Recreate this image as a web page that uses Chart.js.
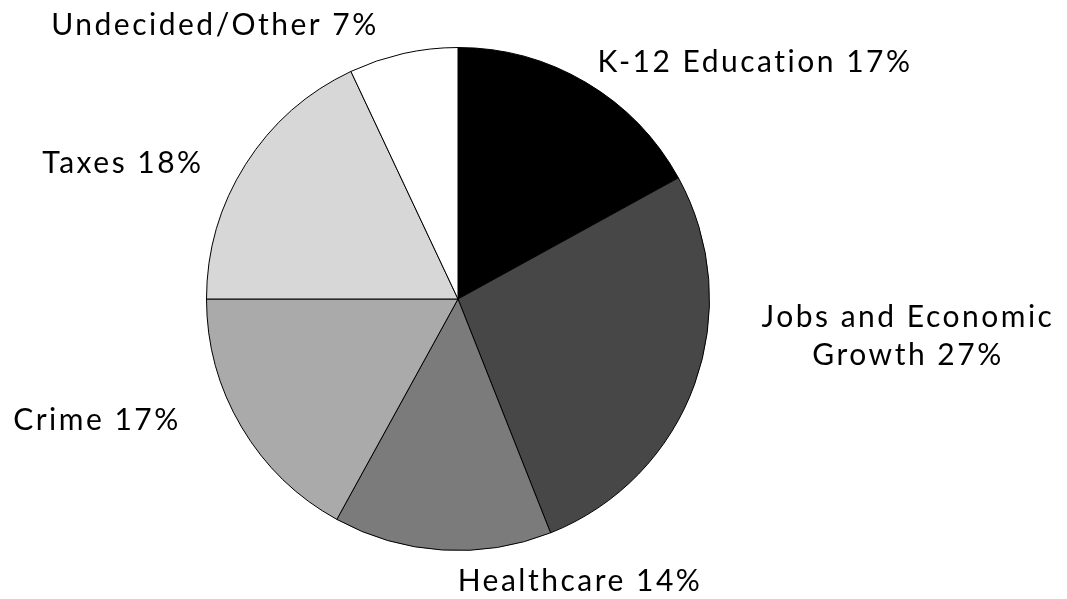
<!DOCTYPE html>
<html>
<head>
<meta charset="utf-8">
<script src="https://cdn.jsdelivr.net/npm/chart.js@4"></script>
<style>
  html, body { margin: 0; padding: 0; background: #fff; }
  #wrap { width: 1067px; height: 599px; }
</style>
</head>
<body>
<div id="wrap"><canvas id="pieChart"></canvas></div>
<script>
// Slice data
const categories = ['K-12 Education', 'Jobs and Economic Growth', 'Healthcare', 'Crime', 'Taxes', 'Undecided/Other'];
const shares = [17, 27, 14, 17, 18, 7];
const sliceColors = ['#000000', '#474747', '#7b7b7b', '#aaaaaa', '#d7d7d7', '#ffffff'];

// Label lines and where they sit relative to the pie centre (px)
const labelLines = [
    ['K-12 Education 17%'],
    ['Jobs and Economic', 'Growth 27%'],
    ['Healthcare 14%'],
    ['Crime 17%'],
    ['Taxes 18%'],
    ['Undecided/Other 7%']
];
const labelOffsets = [[297, -227], [450, 28], [122, 292], [-361, 131], [-335, -126], [-243, -264]];
const lineGap = 38;

// Draws the outside labels
const outsideLabels = {
    id: 'outsideLabels',
    afterDraw(chart) {
        const arc = chart.getDatasetMeta(0).data[0];
        if (!arc) return;
        const ctx = chart.ctx;
        ctx.save();
        ctx.font = '30px Lato, "Open Sans", sans-serif';
        ctx.letterSpacing = '2.5px';
        ctx.fillStyle = '#000';
        ctx.textAlign = 'center';
        ctx.textBaseline = 'alphabetic';
        labelLines.forEach((lines, i) => {
            const [dx, dy] = labelOffsets[i];
            lines.forEach((t, j) => ctx.fillText(t, arc.x + dx, arc.y + dy + j * lineGap));
        });
        ctx.restore();
    }
};

new Chart(document.getElementById('pieChart').getContext('2d'), {
    type: 'pie',
    data: {
        labels: categories,
        datasets: [{
            data: shares,
            backgroundColor: sliceColors,
            borderColor: '#000',
            borderWidth: 1
        }]
    },
    options: {
        responsive: true,
        maintainAspectRatio: false,
        animation: false,
        layout: { padding: { left: 206, right: 357, top: 46, bottom: 47 } },
        plugins: {
            legend: { display: false },
            tooltip: { enabled: false }
        }
    },
    plugins: [outsideLabels]
});
</script>
</body>
</html>
